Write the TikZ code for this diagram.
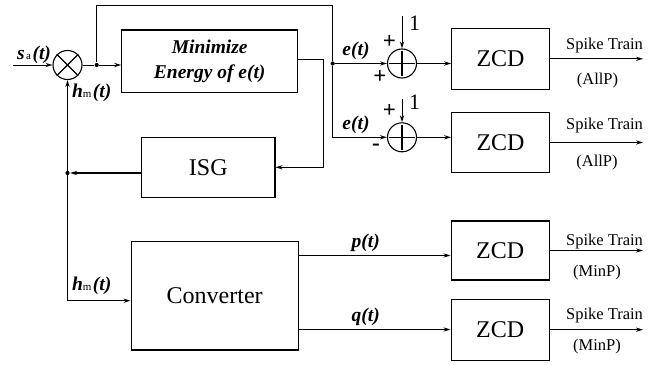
\documentclass[tikz,border=0pt]{standalone}
\usepackage{fontspec}
\setmainfont{Liberation Serif}
\usetikzlibrary{arrows.meta,calc}
\begin{document}
\begin{tikzpicture}[x=1pt,y=-1pt,
  line width=1pt,
  blk/.style={draw,line width=1.1pt,inner sep=0pt,align=center,font=\fontsize{24}{26}\selectfont},
  arr/.style={-{Stealth[length=7pt,width=4.2pt]}},
  lbl/.style={inner sep=0pt,font=\fontsize{19.5}{21}\selectfont\bfseries\itshape},
  sml/.style={inner sep=0pt,font=\fontsize{16.5}{19}\selectfont},
  sgn/.style={inner sep=0pt,font=\fontsize{23}{24}\selectfont\bfseries},
  one/.style={inner sep=0pt,font=\fontsize{22}{24}\selectfont},
  jdot/.style={circle,fill,inner sep=0pt,minimum size=4.2pt},
  ring/.style={circle,draw,inner sep=0pt,minimum size=29pt,line width=1.1pt},
  crossline/.style={line width=1.1pt,shorten <=2.5pt,shorten >=2.5pt}]
\useasboundingbox (0,0) rectangle (671,364);

% blocks
\node[blk,minimum width=176pt,minimum height=62.7pt] (minb) at (209.7,61.3)
  {\fontsize{19.5}{21}\selectfont\bfseries\itshape Minimize\\[-1pt]\fontsize{19.5}{21}\selectfont\bfseries\itshape Energy of e(t)};
\node[blk,minimum width=133.3pt,minimum height=60pt] (isg) at (208.3,167.3) {ISG};
\node[blk,minimum width=167.3pt,minimum height=108.3pt] (conv) at (214.7,295.8) {Converter};
\node[blk,minimum width=97.6pt,minimum height=61pt] (z1) at (500.5,58.8) {ZCD};
\node[blk,minimum width=97.6pt,minimum height=60.4pt] (z2) at (500.5,142.5) {ZCD};
\node[blk,minimum width=98.3pt,minimum height=59pt] (z3) at (500.2,250.5) {ZCD};
\node[blk,minimum width=98.3pt,minimum height=60.7pt] (z4) at (500.2,329.7) {ZCD};

% multiplier and summers
\node[ring] (m) at (67.5,65) {};
\draw[line width=1.1pt] (m.north west) -- (m.south east) (m.north east) -- (m.south west);
\node[ring] (s1) at (402,63.5) {};
\draw[crossline] (s1.north) -- (s1.south);
\draw[crossline] (s1.west) -- (s1.east);
\node[ring] (s2) at (402,137.3) {};
\draw[crossline] (s2.north) -- (s2.south);
\draw[crossline] (s2.west) -- (s2.east);

% junctions and free ends
\coordinate (in) at (13,65);
\node[jdot] (d1) at (96.7,65) {};
\node[jdot] (d2) at (332.7,63.5) {};
\node[jdot] (d3) at (67.5,173) {};
\coordinate (tr) at (332.7,5);
\coordinate (tl) at (96.7,5);
\coordinate (cc) at (67.5,300.7);
\coordinate (c1) at (402,16);
\coordinate (c2) at (402,99);
\coordinate (o1) at (643,58.8);
\coordinate (o2) at (643,142.5);
\coordinate (o3) at (643,250.5);
\coordinate (o4) at (643,329.7);
\coordinate (pp) at (300,255.5);
\coordinate (qq) at (300,329.5);

% connectors
\draw[arr] (in) -- (m.west);
\draw (m.east) -- (d1);
\draw[arr] (d1) -- (minb.west |- d1);
\draw (d1) -- (tl) -- (tr) -- (d2);
\draw[arr,line width=1.5pt] (d2) -- (s1.west);
\draw[arr] (d2) |- (s2.west);
\draw[arr] ([yshift=2pt]minb.east) -- ++(25.6,0) |- (isg.east);
\draw[arr,line width=1.6pt] ([yshift=-5.7pt]isg.west) -- (d3);
\draw[arr] (cc) -- (m.south);
\draw[arr] (cc) -- (conv.west |- cc);
\draw[arr] (c1) -- (s1.north);
\draw[arr] (c2) -- (s2.north);
\draw[arr] (s1.east) -- (z1.west |- s1.east);
\draw[arr] (s2.east) -- (z2.west |- s2.east);
\draw[arr] (conv.east |- pp) -- (z3.west |- pp);
\draw[arr] (conv.east |- qq) -- (z4.west |- qq);
\draw[arr] (z1.east) -- (o1);
\draw[arr] (z2.east) -- (o2);
\draw[arr] (z3.east) -- (o3);
\draw[arr] (z4.east) -- (o4);

% labels
\node[lbl] (lsa) at (34,55) {s\hspace{1.5pt}{\fontsize{11}{11}\selectfont\mdseries\upshape a}\hspace{1.5pt}(t)};
\node[lbl] (lhm1) at (91.7,93.3) {h{\fontsize{11}{11}\selectfont\mdseries\upshape m}\hspace{1.5pt}(t)};
\node[lbl] (lhm2) at (91.7,286) {h{\fontsize{11}{11}\selectfont\mdseries\upshape m}\hspace{1.5pt}(t)};
\node[lbl] (le1) at (356,51) {e(t)};
\node[lbl] (le2) at (356,125) {e(t)};
\node[lbl] (lp) at (365.7,243) {p(t)};
\node[lbl] (lq) at (365.7,317) {q(t)};
\node[sgn] (p1a) at (389.3,42.5) {+};
\node[sgn] (p1b) at (380,77) {+};
\node[sgn] (p2a) at (389.3,111) {+};
\node[sgn] (p2b) at (376,147.3) {-};
\node[one] (n1) at (414.5,23) {1};
\node[one] (n2) at (414.5,102.7) {1};
\node[sml] (st1) at (604.5,45.5) {Spike Train};
\node[sml] (ap1) at (597.5,81) {(AllP)};
\node[sml] (st2) at (604.5,126) {Spike Train};
\node[sml] (ap2) at (597,163) {(AllP)};
\node[sml] (st3) at (604.5,242) {Spike Train};
\node[sml] (mp1) at (597,272.5) {(MinP)};
\node[sml] (st4) at (604.5,315.5) {Spike Train};
\node[sml] (mp2) at (597,347) {(MinP)};
\end{tikzpicture}
\end{document}
